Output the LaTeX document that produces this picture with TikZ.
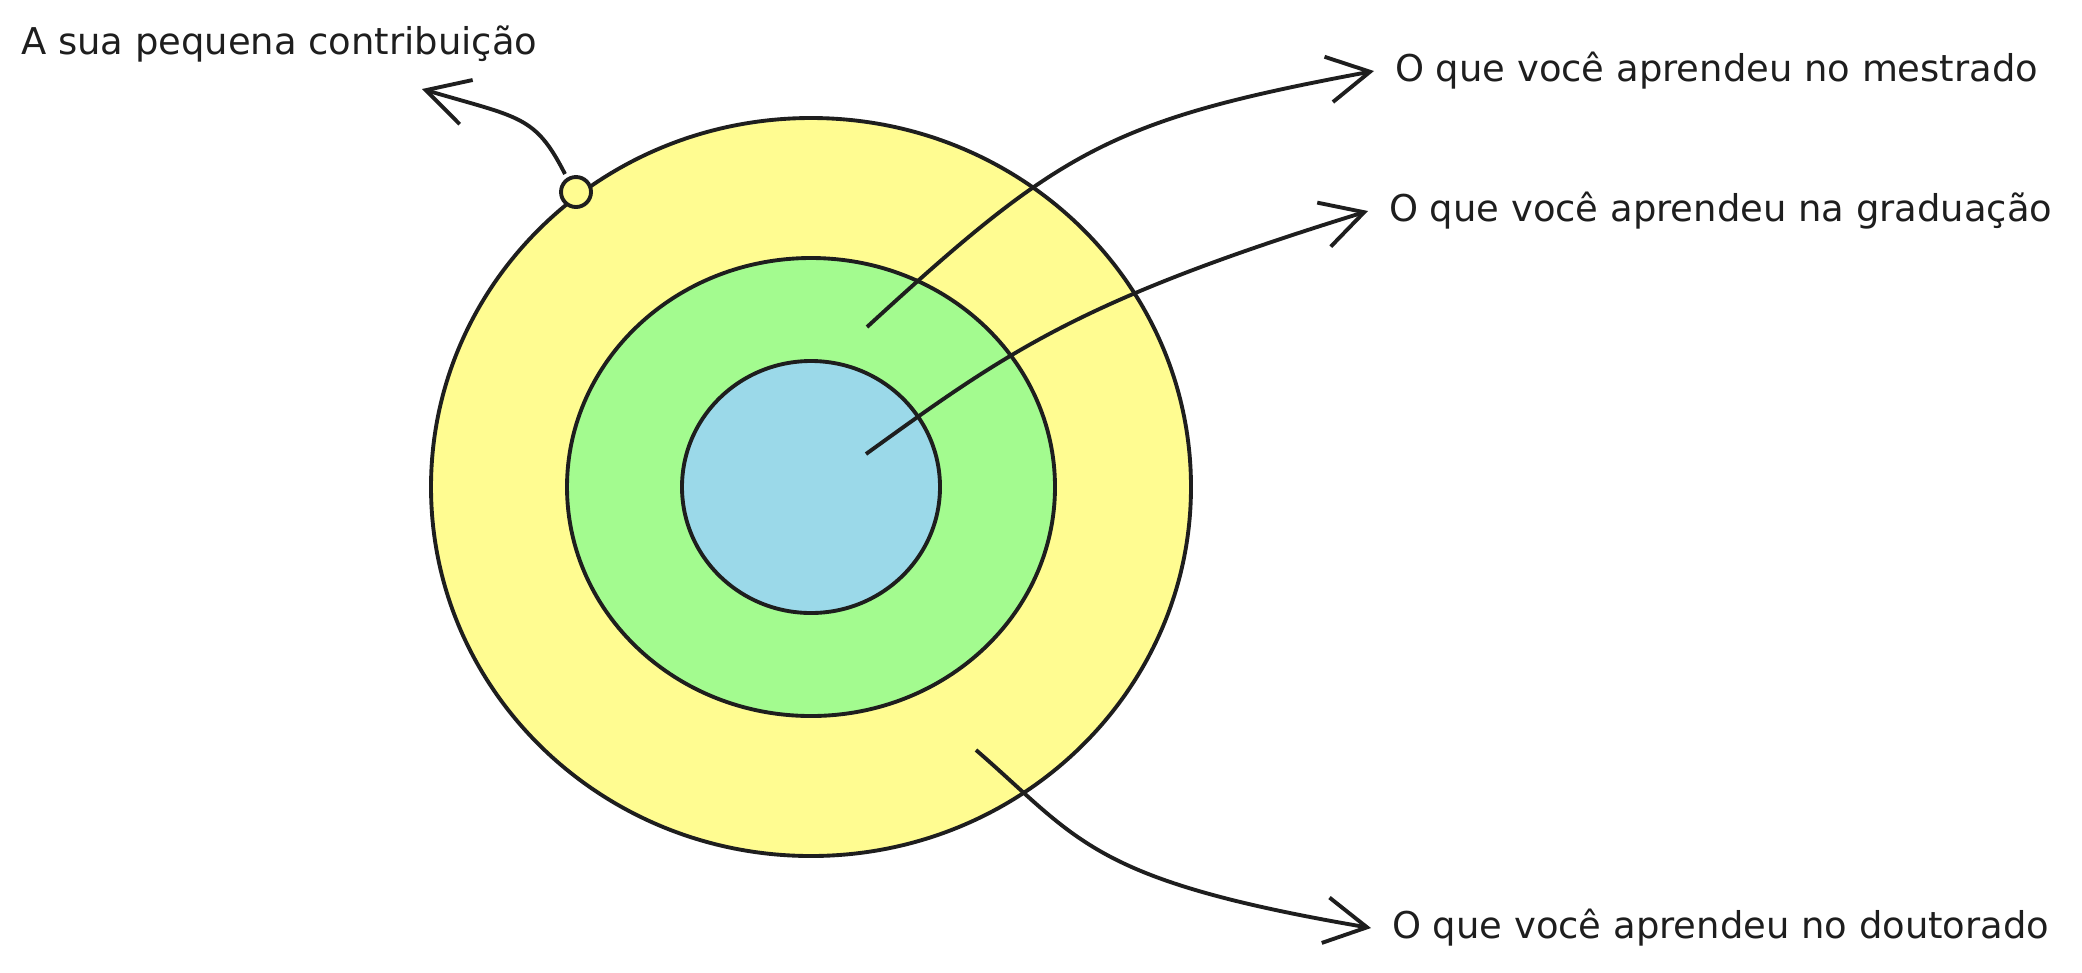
\documentclass[tikz,border=0pt]{standalone}
\usepackage{fontspec}
\setmainfont{DejaVu Sans}
\usetikzlibrary{arrows.meta,positioning}
\definecolor{ink}{HTML}{1E1E1E}
\definecolor{phd}{HTML}{FFFC91}
\definecolor{msc}{HTML}{A3FB8F}
\definecolor{bsc}{HTML}{9BD9E9}

\begin{document}
\begin{tikzpicture}[x=0.01cm,y=-0.01cm,font=\fontsize{10.5}{13}\selectfont,
 line width=1.1pt,
 note/.style={anchor=west,text=ink,inner sep=2pt,outer sep=4pt},
 pointer/.style={draw=ink,-{Straight Barb[length=4.2mm,width=4.6mm]}}]
\useasboundingbox (0,0) rectangle (2082,972);
% rings: centre at (811,487), outer first
\foreach \col/\rx/\ry in {phd/380/369, msc/244/229, bsc/129/126} {
 \draw[ink,fill=\col] (811,487) ellipse [x radius=\rx, y radius=\ry];
}
% the small bump on the outer ring
\draw[ink,fill=phd] (576,192) circle [radius=15];
\coordinate (bump) at (565,174);
\coordinate (inmsc) at (867,327);
\coordinate (inbsc) at (866,454);
\coordinate (inphd) at (976,750);
\coordinate (tipcontrib) at (422,89);
% labels
\node[note] (contrib) at (0,44) {A sua pequena contribuição};
\node[note] (lblmsc) at (1374,71) {O que você aprendeu no mestrado};
\node[note] (lblbsc) at (1368,211) {O que você aprendeu na graduação};
\node[note] (lblphd) at (1371,928) {O que você aprendeu no doutorado};
% arrows
\draw[pointer] (bump) .. controls (535,115) and (520,118) .. (tipcontrib);
\draw[pointer] (inmsc) .. controls (1060,150) and (1110,120) .. (lblmsc.west);
\draw[pointer] (inbsc) .. controls (1010,350) and (1080,300) .. (lblbsc.west);
\draw[pointer] (inphd) .. controls (1080,840) and (1090,880) .. (lblphd.west);
\end{tikzpicture}
\end{document}
